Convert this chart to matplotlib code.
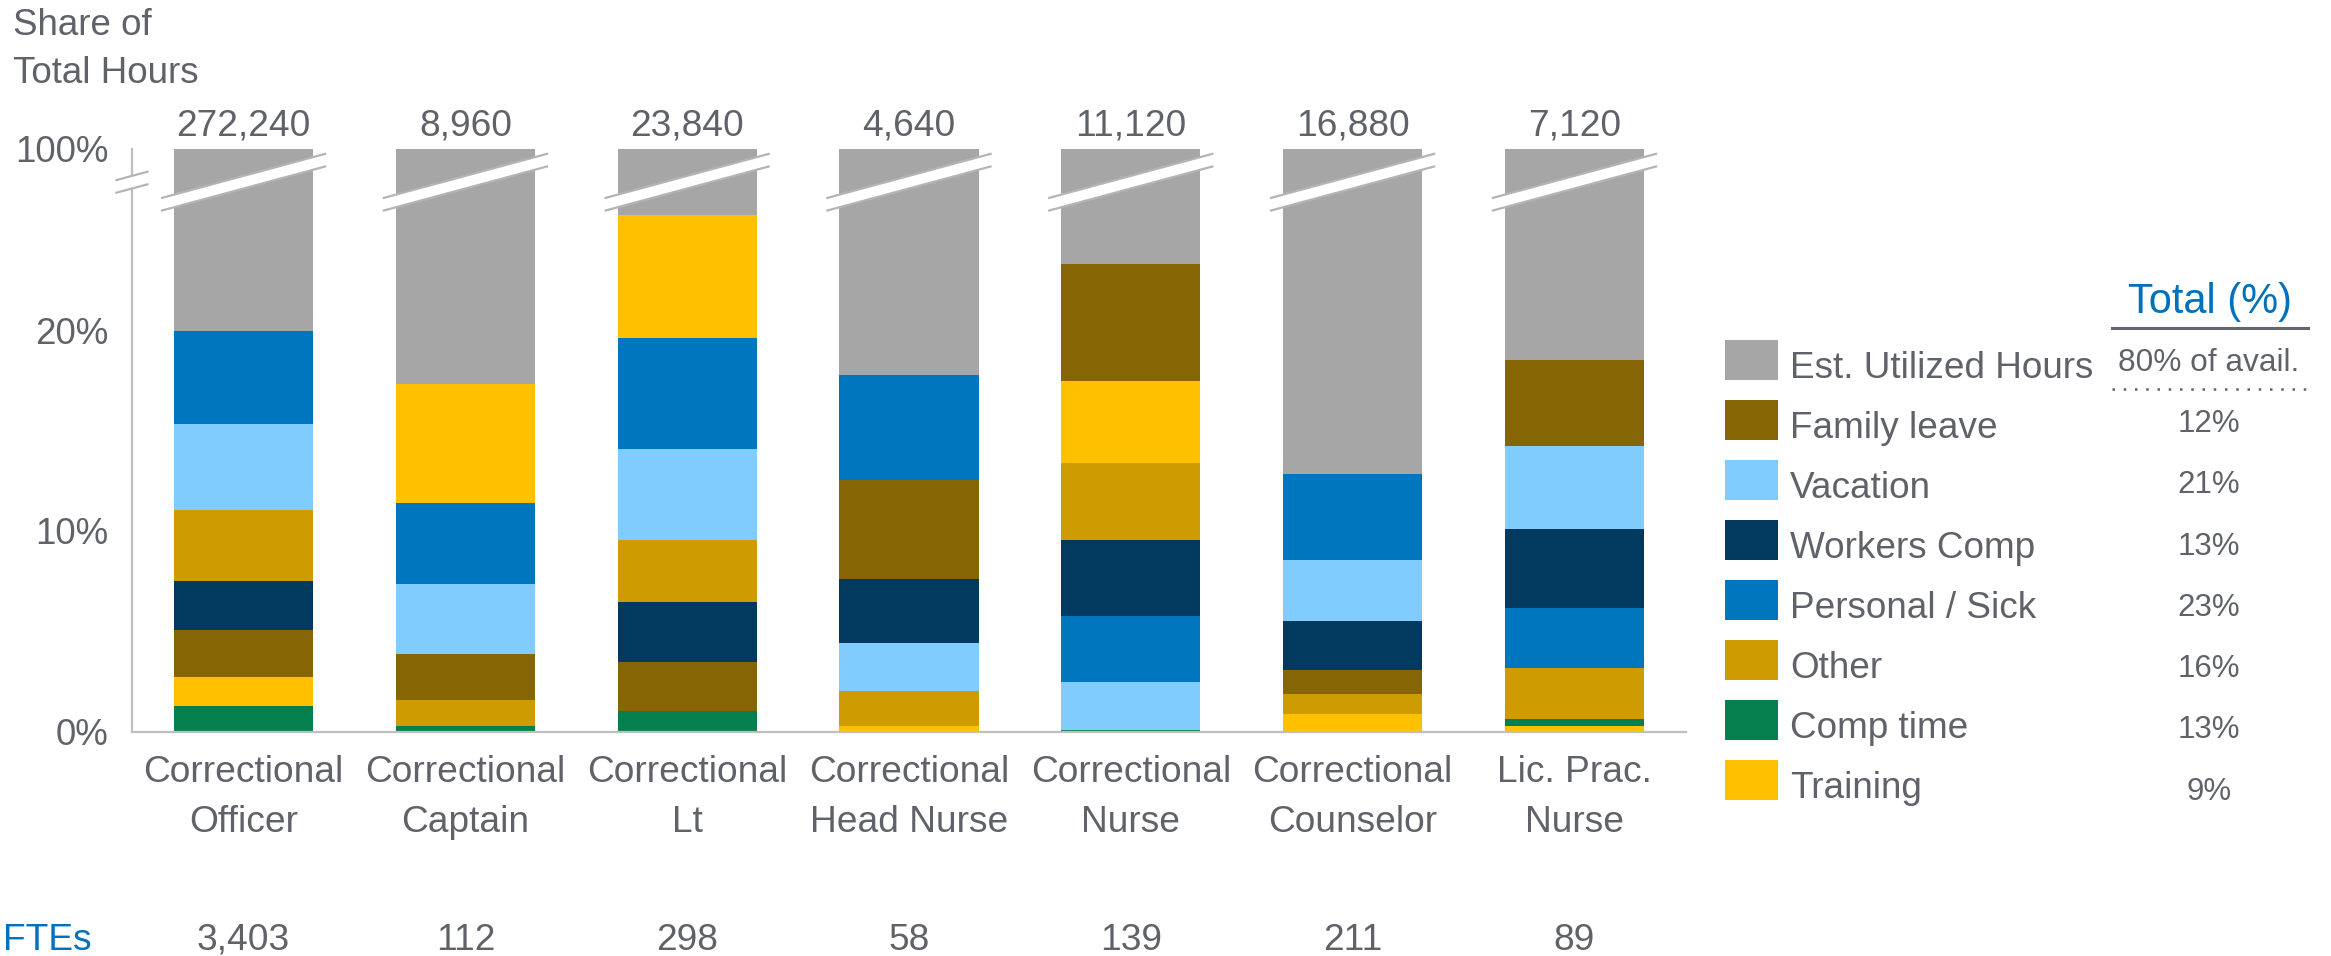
import matplotlib
matplotlib.use('Agg')
import matplotlib.pyplot as plt
from matplotlib.patches import Rectangle, Polygon
from matplotlib.lines import Line2D
import numpy as np

plt.rcParams['font.family'] = ['Liberation Sans', 'DejaVu Sans']

# ---------------- data ----------------
categories = ["Correctional\nOfficer", "Correctional\nCaptain", "Correctional\nLt",
              "Correctional\nHead Nurse", "Correctional\nNurse", "Correctional\nCounselor",
              "Lic. Prac.\nNurse"]
total_hours = [272240, 8960, 23840, 4640, 11120, 16880, 7120]
ftes = [3403, 112, 298, 58, 139, 211, 89]

training = [1.45, 5.94, 6.12, 0.29, 4.09, 0.86, 0.27]
comp_time = [1.27, 0.29, 1.02, 0.00, 0.09, 0.00, 0.35]
family_leave = [2.33, 2.30, 2.45, 4.95, 5.84, 1.19, 4.27]
workers_comp = [2.46, 0.00, 2.99, 3.16, 3.79, 2.41, 3.94]
other = [3.55, 1.28, 3.09, 1.71, 3.84, 1.03, 2.56]
vacation = [4.28, 3.50, 4.54, 2.43, 2.38, 3.08, 4.14]
personal_sick = [4.64, 4.04, 5.54, 5.26, 3.29, 4.29, 2.98]

series = {
    "Training": training,
    "Comp time": comp_time,
    "Family leave": family_leave,
    "Workers Comp": workers_comp,
    "Other": other,
    "Vacation": vacation,
    "Personal / Sick": personal_sick,
}
utilized_label = "Est. Utilized Hours"

legend_order = ["Est. Utilized Hours", "Family leave", "Vacation", "Workers Comp",
                "Personal / Sick", "Other", "Comp time", "Training"]
legend_totals = ["80% of avail.", "12%", "21%", "13%", "23%", "16%", "13%", "9%"]

y_tick_vals = [0, 10, 20]
y_tick_labels = ["0%", "10%", "20%"]

colors = {
    "Est. Utilized Hours": "#A6A6A6",
    "Family leave": "#866504",
    "Vacation": "#80CCFF",
    "Workers Comp": "#023A5F",
    "Personal / Sick": "#0076BE",
    "Other": "#CE9B00",
    "Comp time": "#067F4E",
    "Training": "#FFC000",
}

TXT = "#5F6369"
BLUE = "#0071BC"
AXC = "#BFBFBF"

# ---------------- figure ----------------
W, H = 2331, 956
fig = plt.figure(figsize=(W / 100, H / 100), dpi=100)


def fx(x):
    return x / W


def fy(y):
    return 1 - y / H


ax = fig.add_axes([fx(132), fy(731.5), (1686 - 132) / W, (731.5 - 149) / H])
Y_TOP = 29.05  # visible part of the (broken) axis; top represents 100%
ax.set_xlim(-0.503, 6.503)
ax.set_ylim(0, Y_TOP)

x = np.arange(len(categories))
bw = 0.627
names = list(series.keys())
for i in range(len(categories)):
    vals = [(series[n][i], n) for n in names]
    vals_sorted = sorted(vals, key=lambda t: t[0])
    bottom = 0.0
    for v, n in vals_sorted:
        if v > 0:
            ax.bar(x[i], v, bottom=bottom, width=bw, color=colors[n], linewidth=0, zorder=2)
        bottom += v
    util = 100 - bottom
    ax.bar(x[i], util, bottom=bottom, width=bw, color=colors[utilized_label], linewidth=0, zorder=2)


# break marks on bars
def break_mark(xc, half_dx, dy_half, y_up, y_lo):
    poly = Polygon([(xc - half_dx, y_up - dy_half), (xc + half_dx, y_up + dy_half),
                    (xc + half_dx, y_lo + dy_half), (xc - half_dx, y_lo - dy_half)],
                   closed=True, facecolor='white', edgecolor='none', zorder=5, clip_on=False)
    ax.add_patch(poly)
    for yc in (y_up, y_lo):
        ax.add_line(Line2D([xc - half_dx, xc + half_dx], [yc - dy_half, yc + dy_half],
                           color="#B4B4B4", lw=1.6, zorder=6, clip_on=False))


Y_UP, Y_LO = 27.71, 27.08
for i in range(len(categories)):
    break_mark(x[i], 0.3675, 1.097, Y_UP, Y_LO)
break_mark(-0.503, 0.07, 0.209, Y_UP, Y_LO)

# spines
for s in ("top", "right"):
    ax.spines[s].set_visible(False)
for s in ("left", "bottom"):
    ax.spines[s].set_color(AXC)
    ax.spines[s].set_linewidth(1.6)
    ax.spines[s].set_zorder(3)

ax.set_xticks([])
ax.set_yticks(y_tick_vals + [Y_TOP])
ax.set_yticklabels(y_tick_labels + ["100%"])
ax.tick_params(axis='y', length=0, pad=17, labelsize=26.5, labelcolor=TXT)

# total hours on top
for i, v in enumerate(total_hours):
    ax.annotate(f"{v:,}", xy=(x[i], 1), xycoords=ax.get_xaxis_transform(),
                xytext=(0, 13), textcoords='offset pixels', ha='center', va='baseline',
                fontsize=26.7, color=TXT)

# category labels
for i, c in enumerate(categories):
    lines = c.split("\n")
    for k, ln in enumerate(lines):
        ax.annotate(ln, xy=(x[i], 0), xycoords=ax.get_xaxis_transform(),
                    xytext=(0, -(50.5 + 50 * k)), textcoords='offset pixels',
                    ha='center', va='baseline', fontsize=26.7, color=TXT)
    ax.annotate(f"{ftes[i]:,}", xy=(x[i], 0), xycoords=ax.get_xaxis_transform(),
                xytext=(0, -218.5), textcoords='offset pixels',
                ha='center', va='baseline', fontsize=26.7, color=TXT)

fig.text(fx(3), fy(950), "FTEs", ha='left', va='baseline', fontsize=26.7, color=BLUE)
fig.text(fx(13), fy(35), "Share of", ha='left', va='baseline', fontsize=26.5, color=TXT)
fig.text(fx(13), fy(83), "Total Hours", ha='left', va='baseline', fontsize=26.5, color=TXT)

# legend
for k, name in enumerate(legend_order):
    top = 340 + 60 * k
    fig.add_artist(Rectangle((fx(1725), fy(top + 40)), 53 / W, 40 / H,
                             transform=fig.transFigure, facecolor=colors[name],
                             edgecolor='none'))
    fig.text(fx(1790), fy(top + 38), name, ha='left', va='baseline',
             fontsize=26.6, color=TXT)

# totals column
fig.text(fx(2210), fy(313), "Total (%)", ha='center', va='baseline', fontsize=30, color=BLUE)
fig.add_artist(Line2D([fx(2112), fx(2308)], [fy(328), fy(328)], transform=fig.transFigure,
                      color="#63666A", lw=2.2))
fig.text(fx(2209), fy(371), legend_totals[0], ha='center', va='baseline',
         fontsize=22.8, color=TXT)
fig.add_artist(Line2D([fx(2112), fx(2308)], [fy(389), fy(389)], transform=fig.transFigure,
                      color="#5F6369", lw=1.8, linestyle=(0, (1, 3.5)), dash_capstyle='butt'))
for k, t in enumerate(legend_totals[1:]):
    fig.text(fx(2209), fy(432 + 61.3 * k), t, ha='center', va='baseline',
             fontsize=22.5, color=TXT)

fig.savefig("out.png", dpi=100, facecolor='white')
